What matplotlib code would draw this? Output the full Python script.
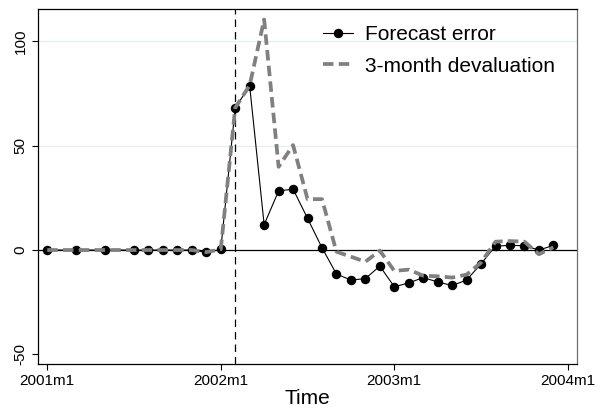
import matplotlib
matplotlib.use("Agg")
import matplotlib.pyplot as plt

plt.rcParams["font.family"] = ["Liberation Sans", "DejaVu Sans"]

# Monthly observations (Stata-style period labels)
periods = ["2001m1", "2001m3", "2001m5", "2001m7", "2001m8", "2001m9", "2001m10",
           "2001m11", "2001m12", "2002m1", "2002m2", "2002m3", "2002m4", "2002m5",
           "2002m6", "2002m7", "2002m8", "2002m9", "2002m10", "2002m11", "2002m12",
           "2003m1", "2003m2", "2003m3", "2003m4", "2003m5", "2003m6", "2003m7",
           "2003m8", "2003m9", "2003m10", "2003m11", "2003m12"]

forecast_error = [0.0, 0.0, 0.0, 0.0, 0.0, 0.0, 0.0, 0.0, -1.1, 0.3,
                  68.2, 78.6, 12.2, 28.3, 29.2, 15.2, 1.1, -11.5, -14.4, -13.7,
                  -7.7, -17.6, -15.8, -13.2, -15.3, -17.0, -14.4, -6.6, 1.9, 2.2,
                  2.1, 0.0, 2.2]

devaluation_3m = [0.0, 0.0, 0.0, 0.0, 0.0, 0.0, 0.0, 0.0, -1.0, 0.3,
                  68.2, 79.0, 110.5, 39.9, 50.3, 24.4, 24.4, -0.8, -3.2, -5.6,
                  -0.3, -10.0, -9.4, -12.3, -12.6, -13.2, -11.8, -6.0, 4.0, 4.3,
                  4.0, -2.0, 1.3]

xtick_labels = ["2001m1", "2002m1", "2003m1", "2004m1"]
ytick_values = [-50, 0, 50, 100]
grid_levels = [50, 100]
event_period = "2002m2"


def month_index(p):
    year, month = p.split("m")
    return (int(year) - 2001) * 12 + int(month) - 1


x = [month_index(p) for p in periods]
xticks = [month_index(p) for p in xtick_labels]

fig = plt.figure(figsize=(6.03, 4.12), dpi=100)
ax = fig.add_axes([0.0625, 0.1177, 0.8945, 0.8597])

for g in grid_levels:
    ax.axhline(g, color="#e6eeef", lw=0.9, zorder=0)
ax.axhline(0, color="black", lw=0.9, zorder=1)
ax.axvline(month_index(event_period), color="black", lw=0.9,
           linestyle=(0, (6, 4)), zorder=1)

ax.plot(x, forecast_error, color="black", lw=0.8, marker="o",
        markersize=5.8, markerfacecolor="black", markeredgecolor="black",
        label="Forecast error", zorder=3)
ax.plot(x, devaluation_3m, color="#808080", lw=2.7,
        linestyle=(0, (2.8, 1.4)), label="3-month devaluation", zorder=4)

ax.set_xlim(-0.66, 36.64)
ax.set_ylim(-54.4, 115.4)
ax.set_xticks(xticks)
ax.set_xticklabels(xtick_labels, fontsize=11)
ax.set_yticks(ytick_values)
ax.set_yticklabels([str(v) for v in ytick_values], fontsize=11,
                   rotation=90, va="center")
ax.tick_params(axis="both", length=4.3, width=0.8, color="black", pad=3)
ax.set_xlabel("Time", fontsize=15, labelpad=1)

for side in ["left", "bottom", "top"]:
    ax.spines[side].set_linewidth(0.9)
    ax.spines[side].set_color("black")
ax.spines["right"].set_linewidth(0.9)
ax.spines["right"].set_color("#6f6f6f")

leg = ax.legend(loc="upper left", bbox_to_anchor=(323 / 603, 1 - 25 / 412),
                bbox_transform=fig.transFigure, frameon=False, fontsize=15,
                handlelength=1.45, handletextpad=0.55, labelspacing=0.6,
                borderpad=0, borderaxespad=0)

fig.savefig("out.png", dpi=100)
